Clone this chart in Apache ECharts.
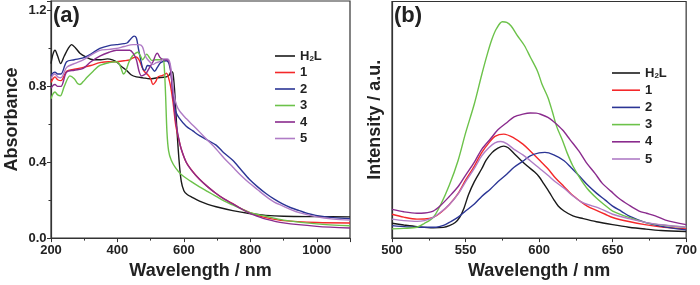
<!DOCTYPE html>
<html>
<head>
<meta charset="UTF-8">
<title>Absorbance and emission spectra</title>
<script src="https://cdn.jsdelivr.net/npm/echarts@6/dist/echarts.min.js"></script>
<style>
    body { margin: 0; background: #fff; }
    #chart { width: 700px; height: 285px; }
</style>
</head>
<body>
<div id="chart"></div>
<script>
// series names (legend order)
const names = ['H2L', '1', '2', '3', '4', '5'];
const colors = ['#1a1a1a', '#f4282a', '#2b3595', '#6cc24a', '#8a2b8d', '#b07cc6'];

// (a) absorbance, [wavelength nm, absorbance]
const absH2L = [[200,0.92],[206,0.97],[212,0.99],[220,0.96],[229,0.92],[240,0.96],[252,1.0],[262,1.02],[275,1.0],[287,0.975],[305,0.955],[327,0.94],[350,0.94],[370,0.945],[385,0.94],[397,0.93],[412,0.905],[427,0.885],[442,0.86],[457,0.85],[477,0.845],[497,0.84],[520,0.845],[547,0.85],[556,0.86],[562,0.88],[567,0.87],[572,0.78],[578,0.6],[585,0.42],[592,0.3],[600,0.25],[610,0.23],[625,0.215],[647,0.195],[672,0.178],[697,0.165],[747,0.145],[797,0.13],[847,0.12],[900,0.115],[1000,0.113],[1100,0.112]];
const abs1 = [[200,0.82],[206,0.84],[212,0.85],[220,0.835],[230,0.83],[247,0.88],[270,0.89],[297,0.9],[320,0.91],[347,0.925],[375,0.93],[397,0.93],[420,0.935],[437,0.94],[447,0.95],[457,0.955],[465,0.94],[472,0.91],[480,0.88],[492,0.86],[500,0.84],[507,0.81],[515,0.825],[522,0.85],[530,0.855],[540,0.86],[548,0.87],[553,0.85],[560,0.8],[567,0.72],[575,0.6],[582,0.54],[592,0.47],[607,0.4],[627,0.35],[647,0.31],[672,0.27],[697,0.235],[722,0.205],[747,0.182],[772,0.155],[797,0.135],[822,0.12],[847,0.108],[900,0.092],[1000,0.082],[1100,0.08]];
const abs2 = [[200,0.855],[206,0.87],[212,0.875],[220,0.865],[230,0.865],[247,0.93],[270,0.94],[297,0.95],[320,0.97],[347,1.0],[375,1.015],[397,1.02],[420,1.025],[430,1.03],[440,1.05],[450,1.065],[457,1.055],[463,1.0],[470,0.94],[477,0.89],[483,0.885],[490,0.91],[500,0.905],[512,0.88],[520,0.9],[530,0.925],[547,0.935],[555,0.92],[562,0.86],[568,0.74],[575,0.67],[585,0.635],[607,0.59],[627,0.565],[647,0.54],[672,0.515],[697,0.49],[720,0.45],[747,0.41],[772,0.36],[797,0.31],[822,0.27],[847,0.235],[872,0.205],[897,0.18],[922,0.16],[947,0.145],[972,0.13],[997,0.12],[1050,0.108],[1100,0.102]];
const abs3 = [[200,0.735],[206,0.76],[212,0.77],[220,0.755],[228,0.75],[240,0.8],[257,0.855],[270,0.84],[280,0.815],[287,0.81],[297,0.825],[307,0.845],[327,0.88],[347,0.91],[375,0.925],[397,0.93],[405,0.92],[412,0.89],[418,0.865],[425,0.88],[435,0.93],[445,0.96],[455,0.975],[461,0.98],[468,0.965],[476,0.94],[482,0.955],[488,0.97],[495,0.955],[503,0.937],[515,0.94],[527,0.94],[537,0.945],[541,0.9],[545,0.75],[549,0.56],[554,0.46],[562,0.41],[575,0.37],[592,0.335],[620,0.3],[647,0.27],[672,0.245],[697,0.22],[722,0.195],[747,0.175],[772,0.155],[797,0.135],[847,0.115],[900,0.095],[1000,0.075],[1100,0.065]];
const abs4 = [[200,0.79],[206,0.805],[212,0.81],[220,0.8],[230,0.8],[247,0.875],[270,0.885],[297,0.895],[320,0.93],[347,0.96],[375,0.98],[397,0.99],[420,0.99],[437,0.99],[447,0.975],[457,0.94],[465,0.88],[472,0.855],[480,0.86],[487,0.87],[497,0.9],[507,0.93],[515,0.965],[520,0.975],[527,0.955],[537,0.94],[550,0.94],[557,0.92],[562,0.85],[568,0.74],[575,0.62],[585,0.52],[592,0.47],[607,0.4],[622,0.36],[647,0.31],[672,0.27],[697,0.235],[722,0.205],[747,0.18],[772,0.155],[797,0.132],[822,0.115],[847,0.1],[900,0.08],[1000,0.062],[1100,0.053]];
const abs5 = [[200,0.84],[206,0.86],[212,0.865],[220,0.85],[230,0.845],[247,0.9],[270,0.92],[297,0.94],[320,0.965],[347,0.99],[375,0.995],[397,1.0],[420,1.01],[447,1.02],[465,1.02],[475,1.01],[482,0.97],[487,0.95],[497,0.93],[507,0.915],[517,0.925],[527,0.93],[540,0.945],[550,0.945],[557,0.93],[563,0.87],[570,0.76],[578,0.7],[587,0.67],[607,0.63],[627,0.595],[647,0.56],[672,0.515],[697,0.47],[722,0.42],[747,0.375],[772,0.33],[797,0.29],[822,0.255],[847,0.22],[872,0.19],[897,0.17],[922,0.15],[947,0.134],[997,0.113],[1050,0.1],[1100,0.095]];

// (b) emission intensity (a.u.), [wavelength nm, intensity]
const emH2L = [[500,15.2],[508,13.5],[517,11.8],[528,10.5],[535,11],[539,12.8],[543,16],[546,21.2],[549,31],[552,44.5],[556,58],[561,71.2],[564,80],[568,87.8],[572,92.5],[576,94.5],[579,92.8],[583,87],[588,79.5],[592,74],[597,67.8],[600,63],[603,56.2],[607,47],[610,39.5],[613,33],[617,27.8],[623,22.8],[630,20],[639,16.8],[650,13.8],[661,11.2],[672,9.3],[683,7.8],[700,6.8]];
const em1 = [[500,24.5],[508,21.5],[517,19.5],[522,19.6],[528,21.2],[533,26],[539,34.5],[545,46],[550,59.5],[556,74],[561,87.8],[566,98],[570,104.5],[576,106.8],[583,102.8],[589,96.5],[594,89.5],[600,80.5],[606,71.2],[611,62],[617,52.8],[622,45],[628,37.8],[633,32.5],[639,28.5],[645,24.5],[650,21.2],[661,17],[672,13.8],[685,11.2],[700,9.5]];
const em2 = [[500,12.8],[510,11.5],[517,11.2],[530,11.2],[535,13],[539,16.2],[545,21.5],[550,27.8],[556,35],[561,42.8],[567,50.5],[572,57.8],[578,65.5],[583,72.8],[589,79],[594,84.5],[600,87.5],[604,88],[610,85.5],[617,79.5],[622,72],[628,62.8],[633,54.5],[639,46.2],[645,39],[650,32.8],[656,27.5],[661,22.8],[672,16.2],[685,11.5],[700,8.5]];
const em3 = [[500,9.5],[508,10],[517,11.2],[522,15],[528,21.2],[533,34],[539,54.5],[545,80],[550,107.8],[556,138],[561,167.8],[565,190],[568,204.5],[571,215],[575,222.2],[578,221.5],[581,217.8],[585,208.5],[590,197.8],[594,186],[599,171.2],[602,158],[606,144.5],[609,130],[612,114.5],[616,100],[619,87.8],[623,74],[628,61.2],[633,50.5],[639,41.2],[645,33.5],[650,27.8],[661,21.2],[672,16.2],[685,13.2],[700,11.2]];
const em4 = [[500,29.5],[508,27],[517,25.5],[522,25.8],[528,27.8],[533,33.5],[539,42.8],[545,53],[550,64.5],[556,78],[561,91.2],[567,102],[572,111.2],[578,118.5],[583,124.5],[589,127.3],[594,128.5],[598,128.3],[601,127.2],[606,124],[610,119.5],[616,111],[621,101.2],[627,89.5],[632,77.8],[638,66.5],[643,56.2],[649,48],[654,41.2],[661,34],[668,27.8],[673,25.5],[679,22.8],[686,18.5],[700,13.8]];
const em5 = [[500,19.5],[508,18],[517,17.2],[522,18],[528,21.2],[533,26.5],[539,34.5],[545,45.5],[550,57.8],[556,71.5],[561,84.5],[566,93],[570,97.8],[574,99.2],[578,97],[583,91.2],[589,85.5],[594,79.5],[600,72],[606,64.5],[611,57.8],[617,51.2],[622,44.5],[628,37.8],[633,34.5],[639,31.8],[645,28],[650,24.5],[661,20],[672,16.2],[685,13.5],[700,11.2]];

const absData = [absH2L, abs1, abs2, abs3, abs4, abs5];
const emData = [emH2L, em1, em2, em3, em4, em5];

const font = 'Arial, "Liberation Sans", sans-serif';
const ink = '#222';
const axisLine = { show: true, onZero: false, lineStyle: { color: '#333', width: 1.2 } };
const tickLabel = { color: ink, fontSize: 13, fontWeight: 'bold', fontFamily: font };
const nameStyle = { color: ink, fontSize: 18, fontWeight: 'bold', fontFamily: font };

function legendFor(left, top, width, gap) {
    return {
        orient: 'vertical', left: left, top: top,
        icon: 'rect', itemWidth: width, itemHeight: 1.6, itemGap: gap,
        selectedMode: false,
        data: names,
        formatter: n => n === 'H2L' ? 'H{s|2}L' : n,
        textStyle: {
            color: ink, fontSize: 13, fontWeight: 'bold', fontFamily: font, lineHeight: 14,
            rich: { s: { fontSize: 8, fontWeight: 'bold', fontFamily: font, verticalAlign: 'bottom', lineHeight: 14 } }
        }
    };
}

function makeSeries(data, idx) {
    return data.map((d, i) => ({
        name: names[i], type: 'line', xAxisIndex: idx, yAxisIndex: idx,
        data: d, symbol: 'none', showSymbol: false, smooth: 0.3,
        color: colors[i],
        lineStyle: { color: colors[i], width: 1.4 }
    }));
}

const chart = echarts.init(document.getElementById('chart'));
chart.setOption({
    animation: false,
    title: [
        { text: '(a)', left: 53, top: 5, padding: 0, textStyle: { fontSize: 22, fontWeight: 'bold', fontFamily: font, color: ink } },
        { text: '(b)', left: 394, top: 5, padding: 0, textStyle: { fontSize: 22, fontWeight: 'bold', fontFamily: font, color: ink } }
    ],
    legend: [legendFor(270, 44, 20, 2.5), legendFor(607, 61, 28, 3.2)],
    grid: [
        { left: 51, right: 350, top: 1, bottom: 42, show: true, borderColor: '#333', borderWidth: 1.2 },
        { left: 392, right: 11, top: 1.5, bottom: 40.5, show: true, borderColor: '#333', borderWidth: 1.2 }
    ],
    xAxis: [
        {
            type: 'value', gridIndex: 0, min: 200, max: 1100, interval: 200,
            name: 'Wavelength / nm', nameLocation: 'middle', nameGap: 19, nameTextStyle: nameStyle,
            axisLine: axisLine, axisTick: { show: true, length: 4, lineStyle: { color: '#333' } },
            minorTick: { show: true, splitNumber: 2, length: 2.5, lineStyle: { color: '#333' } },
            splitLine: { show: false },
            axisLabel: Object.assign({ margin: 6, showMaxLabel: false, formatter: v => String(v) }, tickLabel)
        },
        {
            type: 'value', gridIndex: 1, min: 500, max: 700, interval: 50,
            name: 'Wavelength / nm', nameLocation: 'middle', nameGap: 19, nameTextStyle: nameStyle,
            axisLine: axisLine, axisTick: { show: true, length: 4, lineStyle: { color: '#333' } },
            minorTick: { show: true, splitNumber: 2, length: 2.5, lineStyle: { color: '#333' } },
            splitLine: { show: false },
            axisLabel: Object.assign({ margin: 6, formatter: v => String(v) }, tickLabel)
        }
    ],
    yAxis: [
        {
            type: 'value', gridIndex: 0, min: 0, max: 1.25, interval: 0.4,
            name: 'Absorbance', nameLocation: 'middle', nameGap: 30, nameTextStyle: nameStyle,
            axisLine: axisLine, axisTick: { show: true, length: 4, lineStyle: { color: '#333' } },
            minorTick: { show: true, splitNumber: 2, length: 2.5, lineStyle: { color: '#333' } },
            splitLine: { show: false },
            axisLabel: Object.assign({ margin: 4.5, showMaxLabel: false, formatter: v => v.toFixed(1) }, tickLabel)
        },
        {
            type: 'value', gridIndex: 1, min: 0, max: 243,
            name: 'Intensity / a.u.', nameLocation: 'middle', nameGap: 8, nameTextStyle: nameStyle,
            axisLine: axisLine, axisTick: { show: false }, axisLabel: { show: false },
            splitLine: { show: false }
        }
    ],
    series: makeSeries(absData, 0).concat(makeSeries(emData, 1))
});
</script>
</body>
</html>
